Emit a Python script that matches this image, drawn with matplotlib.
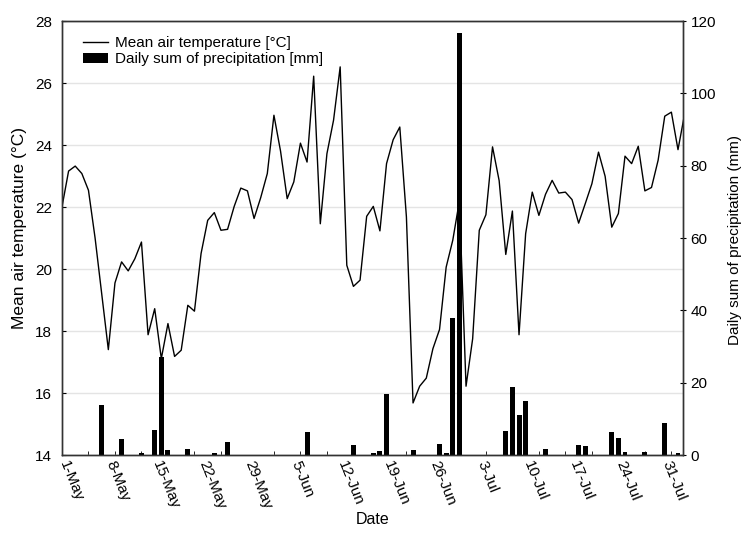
import pandas as pd
import matplotlib
matplotlib.use("Agg")
import matplotlib.pyplot as plt
import matplotlib.dates as mdates
import matplotlib.transforms as mtransforms

plt.rcParams['font.family'] = ['Liberation Sans', 'DejaVu Sans']

# daily values, 1 May .. 3 Aug
start = "2019-05-01"
temperature = [22.0, 23.16, 23.32, 23.08, 22.54, 21.0, 19.2, 17.4, 19.55, 20.23,
               19.94, 20.33, 20.87, 17.88, 18.72, 17.11, 18.24, 17.18, 17.38, 18.83,
               18.64, 20.5, 21.57, 21.82, 21.25, 21.28, 22.02, 22.61, 22.52, 21.63,
               22.3, 23.08, 24.96, 23.8, 22.27, 22.81, 24.06, 23.45, 26.22, 21.46,
               23.72, 24.8, 26.52, 20.12, 19.44, 19.64, 21.7, 22.02, 21.23, 23.4,
               24.17, 24.58, 21.68, 15.68, 16.22, 16.48, 17.43, 18.05, 20.06, 20.93,
               22.2, 16.22, 17.75, 21.25, 21.75, 23.94, 22.85, 20.47, 21.87, 17.88,
               21.14, 22.48, 21.73, 22.41, 22.86, 22.45, 22.48, 22.24, 21.48, 22.11,
               22.75, 23.77, 22.99, 21.35, 21.79, 23.64, 23.4, 23.96, 22.52, 22.63,
               23.51, 24.93, 25.06, 23.85, 25.0]
precipitation = [0, 0, 0, 0, 0, 0, 13.7, 0, 0, 4.3,
                 0, 0, 0.5, 0, 6.9, 27.1, 1.3, 0, 0, 1.8,
                 0, 0, 0, 0.5, 0, 3.5, 0, 0, 0, 0,
                 0, 0, 0, 0, 0, 0, 0, 6.4, 0, 0,
                 0, 0, 0, 0, 2.7, 0, 0, 0.6, 1.0, 16.8,
                 0, 0, 0, 1.3, 0, 0, 0, 3.0, 0.5, 37.9,
                 116.7, 0, 0, 0, 0, 0, 0, 6.7, 18.8, 11.1,
                 15.0, 0, 0, 1.8, 0, 0, 0, 0, 2.9, 2.4,
                 0, 0, 0, 6.4, 4.6, 0.7, 0, 0, 0.7, 0,
                 0, 8.8, 0, 0.6, 0]

dates = pd.date_range(start, periods=len(temperature), freq="D")
df = pd.DataFrame({"date": dates, "temp": temperature, "prec": precipitation})

fig = plt.figure(figsize=(7.43, 5.33), dpi=100)
ax = fig.add_axes([0.0834, 0.1463, 0.8358, 0.8143])

ln, = ax.plot(df["date"], df["temp"], color="black", lw=1.0)
ax.set_ylim(14, 28)
ax.set_yticks(range(14, 29, 2))
ax.grid(axis="y", color="#e4e4e4", lw=1)
ax.set_axisbelow(True)

ax2 = ax.twinx()
bars = ax2.bar(df["date"], df["prec"], width=0.75, color="black")
ax2.set_ylim(0, 120)
ax2.set_yticks(range(0, 121, 20))

x0 = pd.Timestamp(start)
ax.set_xlim(x0, x0 + pd.Timedelta(days=93.75))
ax.set_xticks(pd.date_range(start, "2019-07-31", freq="7D"))
ax.set_xticks(pd.date_range(start, periods=24, freq="4D"), minor=True)
ax.xaxis.set_major_formatter(mdates.DateFormatter("%-d-%b"))
ax.tick_params(axis="x", which="major", length=0, pad=3, labelsize=11)
ax.tick_params(axis="x", which="minor", length=3, direction="in")
shift = mtransforms.ScaledTranslation(-5 / 100, 0, fig.dpi_scale_trans)
for lab in ax.get_xticklabels():
    lab.set_rotation(-68)
    lab.set_ha("left")
    lab.set_va("top")
    lab.set_transform(lab.get_transform() + shift)
ax.tick_params(axis="y", direction="in", length=3, labelsize=11, pad=7)
ax2.tick_params(axis="y", direction="inout", length=5, labelsize=11, pad=3)

for a in (ax, ax2):
    for s in a.spines.values():
        s.set_color("#333333")
        s.set_linewidth(1.0)

ax.set_xlabel("Date", fontsize=11.5, va="top")
ax.xaxis.set_label_coords(0.5, -0.132)
ax.set_ylabel("Mean air temperature (°C)", fontsize=12.5, va="center")
ax.yaxis.set_label_coords(-0.0676, 0.523)
ax2.set_ylabel("Daily sum of precipitation (mm)", fontsize=11, va="center")
ax2.yaxis.set_label_coords(1.0837, 0.495)

ax2.legend([ln, bars], ["Mean air temperature [°C]", "Daily sum of precipitation [mm]"],
           loc="upper left", bbox_to_anchor=(0.034, 0.965), borderaxespad=0, borderpad=0,
           frameon=False, fontsize=11, handlelength=1.6, handletextpad=0.5,
           labelspacing=0.15)

fig.savefig("out.png", dpi=100)
